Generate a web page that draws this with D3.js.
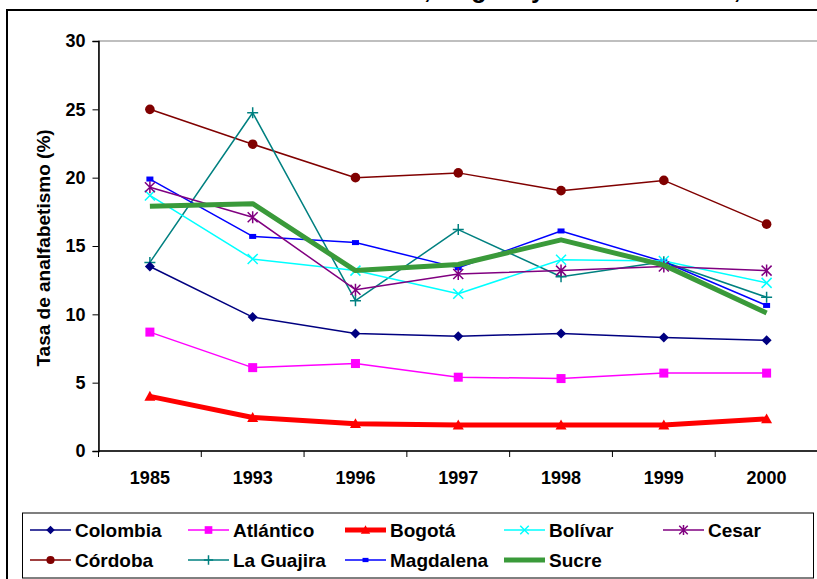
<!DOCTYPE html>
<html><head><meta charset="utf-8">
<script src="https://cdn.jsdelivr.net/npm/d3@7"></script>
<style>
body{margin:0;background:#fff;}
svg{display:block;font-family:"Liberation Sans",Arial,sans-serif;font-weight:bold;}
</style></head><body>
<svg id="c" width="817" height="579"></svg>
<script>
const years = ["1985","1993","1996","1997","1998","1999","2000"];
const yTicks = [0,5,10,15,20,25,30];
const colombia  = [13.5, 9.8, 8.6, 8.4, 8.6, 8.3, 8.1];
const atlantico = [8.7, 6.1, 6.4, 5.4, 5.3, 5.7, 5.7];
const bogota    = [4.0, 2.45, 2.0, 1.9, 1.9, 1.9, 2.35];
const bolivar   = [18.7, 14.05, 13.2, 11.5, 14.0, 13.9, 12.3];
const cesar     = [19.3, 17.1, 11.8, 12.95, 13.2, 13.5, 13.2];
const cordoba   = [25.0, 22.45, 20.0, 20.35, 19.05, 19.8, 16.6];
const guajira   = [13.8, 24.75, 11.0, 16.2, 12.75, 13.85, 11.25];
const magdalena = [19.9, 15.7, 15.25, 13.4, 16.1, 13.85, 10.65];
const sucre     = [17.9, 18.1, 13.2, 13.65, 15.45, 13.6, 10.1];
const seriesNames = ["Colombia","Atlántico","Bogotá","Bolívar","Cesar","Córdoba","La Guajira","Magdalena","Sucre"];
const titlePrefix = "Tasa de analfabetismo en Colombia";
const titleRest = ", Bogotá y la Costa Caribe, 1985-2000";
const yTitle = "Tasa de analfabetismo (%)";

const styles = {
  "Colombia":  {color:"#000080", w:1.5, m:"diamond"},
  "Atlántico": {color:"#FF00FF", w:1.5, m:"square"},
  "Bogotá":    {color:"#FF0000", w:5,   m:"triangle"},
  "Bolívar":   {color:"#00FFFF", w:1.5, m:"x"},
  "Cesar":     {color:"#800080", w:1.5, m:"asterisk"},
  "Córdoba":   {color:"#800000", w:1.5, m:"circle"},
  "La Guajira":{color:"#008080", w:1.5, m:"plus"},
  "Magdalena": {color:"#0000FF", w:1.5, m:"dash"},
  "Sucre":     {color:"#3A9A3A", w:5,   m:"none"}
};
const seriesData = [colombia, atlantico, bogota, bolivar, cesar, cordoba, guajira, magdalena, sucre];

const svg = d3.select("#c");

// title (clipped at top, as in the reference)
const tmp = svg.append("text").attr("font-size",25).text(titlePrefix);
const prefW = tmp.node().getComputedTextLength();
tmp.remove();
svg.append("text").attr("x",424 - prefW).attr("y",-2).attr("font-size",25)
  .attr("fill","#000").text(titlePrefix + titleRest);

// outer chart border
svg.append("rect").attr("x",7).attr("y",10).attr("width",830).attr("height",600)
  .attr("fill","none").attr("stroke","#000").attr("stroke-width",2);

const pL=98.5, pR=818, pT=41, pB=451;
const x = d3.scaleBand().domain(years).range([pL,pR]).paddingInner(0).paddingOuter(0);
const y = d3.scaleLinear().domain([0,30]).range([pB,pT]);

// plot area border
svg.append("rect").attr("x",pL).attr("y",pT).attr("width",pR-pL).attr("height",pB-pT)
  .attr("fill","none").attr("stroke","#808080").attr("stroke-width",1);

// y axis
const yAxis = svg.append("g").attr("transform",`translate(${pL},0)`)
  .call(d3.axisLeft(y).tickValues(yTicks).tickSize(6).tickPadding(7));
yAxis.select(".domain").attr("stroke","#000").attr("stroke-width",1.5);
yAxis.selectAll(".tick line").attr("stroke","#000");
yAxis.selectAll("text").attr("font-size",18).attr("font-family","Liberation Sans, Arial").attr("font-weight","bold").attr("fill","#000");

// x axis with ticks at category boundaries
const xAxisG = svg.append("g").attr("transform",`translate(0,${pB})`);
xAxisG.append("line").attr("x1",pL).attr("x2",pR).attr("stroke","#000").attr("stroke-width",1.5);
const bounds = years.map(d=>x(d)).concat([x(years[years.length-1])+x.bandwidth()]);
xAxisG.selectAll("line.tk").data(bounds).enter().append("line").attr("class","tk")
  .attr("x1",d=>d).attr("x2",d=>d).attr("y1",0).attr("y2",6).attr("stroke","#000");
xAxisG.selectAll("text").data(years).enter().append("text")
  .attr("x",d=>x(d)+x.bandwidth()/2).attr("y",33).attr("text-anchor","middle")
  .attr("font-size",18).attr("fill","#000").text(d=>d);

// y title
svg.append("text").attr("transform",`translate(50,248) rotate(-90)`).attr("text-anchor","middle")
  .attr("font-size",19).attr("fill","#000").text(yTitle);

const cx = d => x(d)+x.bandwidth()/2;

function drawMarker(g, type, px, py, color, scale){
  const s = scale||1;
  if(type==="diamond"){
    const r=5*s;
    g.append("path").attr("d",`M${px},${py-r}L${px+r},${py}L${px},${py+r}L${px-r},${py}Z`).attr("fill",color);
  } else if(type==="square"){
    const r=4.5*s;
    g.append("rect").attr("x",px-r).attr("y",py-r).attr("width",2*r).attr("height",2*r).attr("fill",color);
  } else if(type==="triangle"){
    const r=5.5*s;
    g.append("path").attr("d",`M${px},${py-r}L${px+r},${py+r*0.8}L${px-r},${py+r*0.8}Z`).attr("fill",color);
  } else if(type==="x"){
    const r=5*s;
    g.append("path").attr("d",`M${px-r},${py-r}L${px+r},${py+r}M${px-r},${py+r}L${px+r},${py-r}`).attr("stroke",color).attr("stroke-width",1.5);
  } else if(type==="asterisk"){
    const r=5*s;
    g.append("path").attr("d",`M${px-r},${py-r}L${px+r},${py+r}M${px-r},${py+r}L${px+r},${py-r}M${px},${py-r*1.2}L${px},${py+r*1.2}`).attr("stroke",color).attr("stroke-width",1.5);
  } else if(type==="circle"){
    g.append("circle").attr("cx",px).attr("cy",py).attr("r",4.8*s).attr("fill",color);
  } else if(type==="plus"){
    const r=5.5*s;
    g.append("path").attr("d",`M${px-r},${py}L${px+r},${py}M${px},${py-r}L${px},${py+r}`).attr("stroke",color).attr("stroke-width",1.5);
  } else if(type==="dash"){
    g.append("rect").attr("x",px-3.5*s).attr("y",py-2.5*s).attr("width",7*s).attr("height",5*s).attr("fill",color);
  }
}

const line = d3.line().x((d,i)=>cx(years[i])).y(d=>y(d));
const order = [5,6,7,3,4,0,1,8,2];
order.forEach(i=>{
  const name = seriesNames[i], st = styles[name], vals = seriesData[i];
  const g = svg.append("g");
  g.append("path").datum(vals).attr("d",line).attr("fill","none")
    .attr("stroke",st.color).attr("stroke-width",st.w).attr("stroke-linejoin","round");
  vals.forEach((v,j)=>drawMarker(g, st.m, cx(years[j]), y(v), st.color));
});

// legend
const lg = svg.append("g");
lg.append("rect").attr("x",22.5).attr("y",513).attr("width",791).attr("height",65)
  .attr("fill","#fff").attr("stroke","#000").attr("stroke-width",1);
const colX = [30,188,345,504,663];
const rowY = [530,560];
seriesNames.forEach((name,i)=>{
  const st = styles[name];
  const lx = colX[i%5], ly = rowY[Math.floor(i/5)];
  const g = lg.append("g");
  g.append("line").attr("x1",lx).attr("x2",lx+41).attr("y1",ly).attr("y2",ly)
    .attr("stroke",st.color).attr("stroke-width",st.w);
  drawMarker(g, st.m, lx+20.5, ly, st.color, 0.85);
  g.append("text").attr("x",lx+45).attr("y",ly+6.5).attr("font-size",19).attr("fill","#000").text(name);
});
</script>
</body></html>
